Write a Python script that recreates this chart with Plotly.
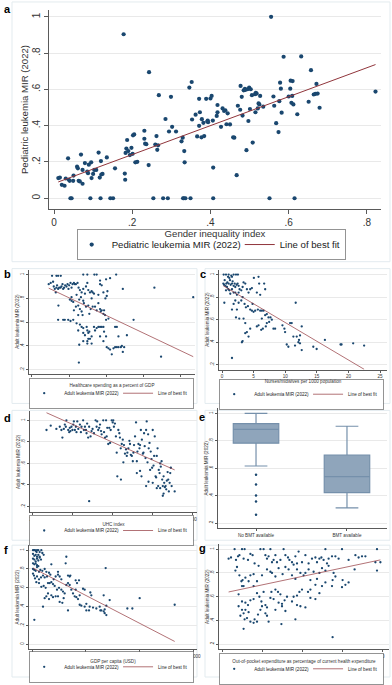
import plotly.graph_objects as go

FONT = "Liberation Sans, Arial, sans-serif"
NAVY = "#1A476F"
MAROON = "#90353B"
W, H = 392, 685

# ---------------- Panel a: Gender inequality index vs pediatric leukemia MIR
a_x = [0.011,0.015,0.020,0.027,0.030,0.036,0.038,0.040,0.042,0.045,0.049,0.050,0.059,0.061,0.063,0.066,
       0.069,0.073,0.073,0.079,0.085,0.087,0.089,0.093,0.095,0.096,0.100,0.103,0.108,0.114,0.117,0.119,
       0.120,0.121,0.124,0.135,0.144,0.151,0.156,0.178,0.181,0.182,0.183,0.185,0.187,0.190,0.194,0.198,
       0.201,0.202,0.205,0.208,0.213,0.231,0.231,0.233,0.236,0.242,0.243,0.254,0.259,0.262,0.264,0.266,
       0.268,0.279,0.285,0.291,0.294,0.299,0.302,0.312,0.326,0.329,0.330,0.332,0.333,0.334,0.336,0.346,
       0.349,0.352,0.353,0.362,0.366,0.371,0.371,0.373,0.377,0.378,0.382,0.384,0.389,0.392,0.393,0.394,
       0.400,0.403,0.406,0.407,0.407,0.416,0.418,0.418,0.427,0.431,0.435,0.438,0.441,0.444,0.450,0.458,
       0.461,0.467,0.470,0.476,0.477,0.480,0.482,0.485,0.488,0.489,0.492,0.495,0.497,0.499,0.501,0.503,
       0.506,0.508,0.514,0.515,0.516,0.518,0.521,0.523,0.525,0.527,0.535,0.551,0.555,0.561,0.563,0.568,
       0.574,0.576,0.578,0.580,0.582,0.587,0.600,0.604,0.605,0.607,0.609,0.610,0.612,0.615,0.622,0.632,
       0.651,0.657,0.664,0.668,0.671,0.674,0.679,0.822]
a_y = [0.111,0.114,0.074,0.069,0.109,0.220,0.102,0.096,0.0,0.0,0.096,0.125,0.174,0.165,0.096,0.093,
       0.241,0.156,0.080,0.194,0.147,0.138,0.185,0.0,0.198,0.111,0.134,0.156,0.156,0.252,0.114,0.0,
       0.205,0.131,0.134,0.225,0.0,0.0,0.165,0.904,0.136,0.102,0.250,0.274,0.321,0.260,0.238,0.278,
       0.245,0.347,0.352,0.198,0.201,0.372,0.328,0.301,0.298,0.183,0.695,0.0,0.296,0.343,0.267,0.292,
       0.568,0.0,0.437,0.0,0.368,0.559,0.394,0.368,0.314,0.334,0.0,0.0,0.260,0.198,0.0,0.610,
       0.0,0.641,0.434,0.461,0.341,0.548,0.399,0.474,0.336,0.436,0.416,0.343,0.548,0.423,0.428,0.419,
       0.550,0.564,0.428,0.0,0.169,0.454,0.474,0.514,0.394,0.495,0.481,0.485,0.408,0.468,0.407,0.336,
       0.334,0.127,0.510,0.488,0.619,0.559,0.456,0.595,0.603,0.597,0.265,0.601,0.426,0.610,0.492,0.601,
       0.568,0.307,0.574,0.474,0.581,0.577,0.495,0.523,0.517,0.564,0.505,0.0,1.0,0.561,0.510,0.414,
       0.365,0.535,0.637,0.604,0.472,0.780,0.561,0.604,0.648,0.526,0.564,0.646,0.517,0.0,0.463,0.782,
       0.532,0.706,0.572,0.575,0.630,0.577,0.499,0.588]
a_fit_x = [0.011, 0.822]
a_fit_y = [0.090, 0.737]
a_xticks = [0, 0.2, 0.4, 0.6, 0.8]
a_xlabels = ["0", ".2", ".4", ".6", ".8"]
a_yticks = [0, 0.2, 0.4, 0.6, 0.8, 1]
a_ylabels = ["0", ".2", ".4", ".6", ".8", "1"]

# ---------------- Panel b: Healthcare spending (% GDP)
b_x = [2.71,3.30,3.53,3.89,6.92,7.47,8.42,8.73,10.0,10.54,11.36,2.26,2.53,2.85,2.94,3.08,3.21,3.30,3.39,
       3.53,3.67,3.85,3.98,4.12,4.21,4.34,4.48,4.66,4.80,4.93,5.02,5.20,5.34,5.48,5.66,5.79,5.93,6.15,
       6.29,6.47,6.70,6.92,7.15,7.29,7.47,7.60,7.83,8.05,8.19,8.37,9.19,9.19,9.41,9.64,9.91,10.09,10.18,
       8.96,8.05,6.92,6.61,6.38,6.02,5.57,5.34,5.11,5.34,3.57,4.21,4.43,4.89,5.57,5.20,5.66,5.93,6.24,
       6.47,6.70,6.83,7.01,7.29,7.60,7.74,7.92,8.19,8.51,8.73,8.96,9.19,9.28,9.41,9.64,9.73,9.86,10.0,
       10.32,6.24,6.47,6.70,6.92,7.15,7.38,7.47,7.74,7.83,8.05,8.37,8.51,8.73,8.96,9.19,9.41,9.64,9.73,
       10.0,10.09,10.32,10.54,10.77,11.0,11.22,11.45,11.67,11.99,12.13,12.26,12.44,6.38,6.33,6.92,7.47,
       7.60,8.05,9.19,9.64,11.22,11.45,11.67,12.26,12.81,13.71,16.52,17.42,21.76,3.53,6.02,6.24,6.92,
       7.60,7.47]
b_y = [0.99,0.99,0.99,0.99,1.0,1.0,1.0,1.0,0.96,0.97,1.0,0.92,0.93,0.94,0.90,0.88,0.85,0.89,0.91,
       0.88,0.89,0.89,0.90,0.92,0.88,0.89,0.91,0.90,0.92,0.88,0.91,0.93,0.89,0.92,0.93,0.92,0.92,0.93,
       0.89,0.87,0.85,0.88,0.84,0.90,0.93,0.87,0.85,0.86,0.85,0.84,0.95,0.92,0.91,0.85,0.80,0.82,0.86,
       0.83,0.80,0.78,0.81,0.79,0.83,0.77,0.78,0.79,0.81,0.74,0.62,0.62,0.62,0.62,0.61,0.70,0.73,0.74,
       0.71,0.69,0.66,0.76,0.73,0.74,0.67,0.71,0.73,0.73,0.70,0.76,0.71,0.69,0.70,0.67,0.70,0.66,0.62,
       0.63,0.66,0.58,0.56,0.55,0.49,0.56,0.53,0.52,0.46,0.48,0.56,0.53,0.55,0.56,0.56,0.56,0.56,0.52,
       0.48,0.39,0.38,0.37,0.33,0.38,0.39,0.39,0.39,0.39,0.40,0.35,0.39,0.41,0.26,0.44,0.44,
       0.46,0.42,0.48,0.44,0.56,0.56,0.48,0.88,0.49,0.62,0.89,0.31,0.81,0.62,0.59,0.53,0.51,
       0.51,0.42]
b_fit_x = [2.26, 21.76]
b_fit_y = [0.886, 0.31]
b_xticks = [0, 5, 10, 15, 20]

# ---------------- Panel c: Nurses/midwives per 1000 population
c_x = [0.26,0.63,1.05,1.47,1.84,2.21,2.52,0.95,1.16,1.58,0.42,0.21,0.32,0.53,0.68,0.84,1.05,1.26,1.37,
       1.58,1.68,1.84,2.00,2.10,2.31,2.47,2.63,2.78,0.79,1.00,1.16,0.63,1.31,1.58,1.84,2.10,2.36,2.63,
       3.05,3.26,3.41,3.68,3.94,4.20,4.46,4.73,5.04,5.78,5.88,6.67,6.83,5.51,6.04,0.37,1.58,1.84,2.10,
       2.21,2.63,3.05,3.26,3.57,3.78,4.10,4.46,4.73,4.83,4.99,5.25,5.67,6.04,6.30,6.57,6.83,7.09,7.35,
       7.46,7.67,7.88,8.14,8.40,6.93,7.09,5.51,5.78,6.20,6.46,3.41,3.68,3.94,4.20,4.46,2.36,2.73,3.68,
       6.30,3.26,9.56,9.87,10.77,11.03,9.98,11.29,11.82,12.34,11.55,10.24,10.50,12.34,12.61,12.08,12.18,
       12.61,14.44,14.97,16.28,18.75,18.91,20.75,22.48,11.66,3.15,1.58]
c_y = [1.0,1.0,1.0,0.99,1.0,1.0,1.0,0.98,0.97,0.98,0.95,0.92,0.91,0.90,0.92,0.93,0.92,0.95,0.91,
       0.92,0.94,0.90,0.92,0.89,0.91,0.92,0.90,0.87,0.89,0.87,0.86,0.86,0.83,0.87,0.84,0.84,0.82,0.84,
       0.86,0.89,0.93,0.92,0.87,0.84,0.87,0.88,0.97,0.98,0.92,0.92,0.87,0.84,0.82,0.75,0.69,0.74,0.77,
       0.62,0.75,0.77,0.80,0.74,0.71,0.72,0.69,0.68,0.74,0.67,0.68,0.69,0.68,0.68,0.68,0.64,0.65,0.62,
       0.58,0.62,0.60,0.52,0.52,0.54,0.57,0.54,0.55,0.51,0.52,0.61,0.57,0.49,0.45,0.52,0.69,0.61,0.48,
       0.61,0.41,0.55,0.52,0.57,0.57,0.49,0.45,0.45,0.46,0.37,0.38,0.36,0.39,0.33,0.40,0.42,
       0.54,0.36,0.34,0.42,0.38,0.38,0.39,0.37,0.75,0.40,0.26]
c_fit_x = [0.21, 22.48]
c_fit_y = [0.90, 0.16]
c_xticks = [0, 5, 10, 15, 20, 25]

# ---------------- Panel d: UHC index
d_x = [27.2,29.3,32.1,33.8,34.6,35.1,35.8,36.3,36.8,37.1,38.0,38.5,38.8,39.1,39.6,40.1,40.5,40.8,41.3,
       41.8,42.1,42.5,43.0,43.8,44.3,44.6,45.4,45.8,46.3,46.8,47.1,47.4,47.9,48.4,49.1,49.6,50.1,50.8,
       51.6,52.1,52.4,52.9,53.4,53.8,54.3,54.6,55.4,55.8,56.3,56.8,57.1,57.4,57.9,58.4,58.8,59.1,59.6,
       60.1,60.4,60.7,61.2,61.7,62.1,62.9,63.4,63.7,64.1,64.6,65.1,65.4,65.7,66.2,66.7,67.1,67.4,67.9,
       68.4,68.7,69.1,69.6,70.1,70.4,70.7,71.2,71.7,72.1,72.4,72.9,73.4,73.7,74.1,74.6,75.1,75.4,75.7,
       76.0,76.4,76.7,77.0,77.4,77.7,78.0,78.4,78.7,79.0,79.4,79.7,80.0,80.4,80.7,81.0,81.4,81.7,82.0,
       82.4,82.7,83.0,83.4,83.7,84.0,84.4,84.7,85.0,85.4,85.7,86.0,86.4,86.7,87.0,87.4,87.7,88.0,88.4,
       88.7,89.0,89.4,62.4,64.2,48.4,72.1,73.7,74.4,76.7,77.9,90.9,85.0,85.4,83.7,80.0,82.0]
d_y = [0.91,0.95,0.92,0.94,0.91,0.84,0.92,0.96,0.94,1.0,0.91,0.89,0.93,0.90,0.94,0.91,0.96,0.99,0.91,
       0.94,0.89,0.99,0.92,0.96,0.89,0.94,1.0,0.91,0.94,0.91,0.88,0.97,0.84,0.94,0.85,0.90,0.92,0.88,
       1.0,0.94,0.99,0.91,0.93,0.96,0.90,0.87,1.0,0.89,0.84,1.0,0.85,0.93,0.78,0.93,0.79,0.91,1.0,
       0.98,1.0,0.94,0.97,0.85,0.70,0.91,0.88,0.84,0.74,0.78,0.82,0.61,0.77,0.69,0.73,0.67,0.70,0.74,
       0.81,0.78,0.68,0.67,0.62,0.70,0.77,0.85,0.98,0.62,0.71,0.78,0.74,0.77,0.91,0.82,0.69,0.70,0.88,
       0.76,0.65,0.91,0.99,0.61,0.87,0.74,0.79,0.54,0.71,0.64,0.56,0.91,0.58,0.67,0.85,0.48,0.47,0.67,
       0.74,0.39,0.54,0.51,0.60,0.57,0.62,0.45,0.39,0.48,0.42,0.38,0.39,0.36,0.44,0.52,0.45,0.34,0.42,
       0.51,0.56,0.39,0.48,0.45,0.25,0.51,0.53,0.48,0.39,0.43,0.34,0.30,0.32,0.37,0.42,0.37]
d_fit_x = [27.2, 90.9]
d_fit_y = [1.07, 0.54]
d_xticks = [20, 40, 60, 80, 100]

# ---------------- Panel e: BMT availability (box plot)
e_cats = ["No BMT available", "BMT available"]
e_q1 = [0.783, 0.424]
e_median = [0.884, 0.540]
e_q3 = [0.925, 0.696]
e_lower = [0.617, 0.313]
e_upper = [1.0, 0.906]
e_out_x = ["No BMT available"] * 5
e_out_y = [0.554, 0.482, 0.402, 0.359, 0.263]

# ---------------- Panel f: GDP per capita (USD)
f_x = [932,1864,2795,3727,4659,5901,7144,8697,9629,10871,932,2174,3417,4659,5901,932,2174,3417,4659,
       5901,7144,8386,932,2174,3417,4659,5901,932,2174,3417,4659,6523,7765,9629,11803,13356,932,1864,
       2795,4659,6523,8386,10250,11803,13977,15841,17083,18015,20189,22053,24227,25780,4038,6523,8697,
       10871,12735,14909,16462,18015,19568,21121,23295,25159,27333,28886,30439,18015,14909,11803,15841,
       19568,22053,24227,25780,28265,29507,31992,33545,35098,36651,38204,39757,41310,42863,44416,27333,
       31371,24227,33545,35098,40689,41931,47522,49075,33545,44416,45969,49075,50628,53734,54355,55287,
       56840,63052,63673,64605,67711,69264,72370,43795,40689,35719,31992,2174,10250,13356,50628,53113,
       59946,66779,67711,69264,66779,68643,88832,93491,100324,132937,7144,4348]
f_y = [1.0,1.0,1.0,0.99,1.0,1.0,0.98,1.0,0.97,0.95,0.96,0.94,0.95,0.93,0.95,0.91,0.90,0.88,0.91,
       0.89,0.92,0.90,0.86,0.85,0.86,0.84,0.83,0.80,0.79,0.78,0.82,0.77,0.79,0.78,0.80,0.77,0.75,0.73,
       0.70,0.72,0.69,0.71,0.73,0.71,0.72,0.76,0.74,0.85,0.69,0.72,0.74,0.72,0.66,0.65,0.61,
       0.62,0.60,0.65,0.65,0.66,0.64,0.62,0.58,0.60,0.58,0.56,0.54,0.52,0.54,0.49,0.48,
       0.50,0.51,0.51,0.45,0.44,0.49,0.63,0.65,0.63,0.58,0.54,0.51,0.50,0.48,0.52,0.69,
       0.86,0.77,0.73,0.72,0.68,0.65,0.59,0.58,0.36,0.42,0.41,0.40,0.43,0.40,0.55,0.52,
       0.39,0.40,0.36,0.36,0.37,0.41,0.47,0.68,0.58,0.73,0.93,0.26,0.40,0.51,0.36,0.36,
       0.38,0.35,0.33,0.31,0.52,0.81,0.38,0.38,0.49,0.42,0.93,0.98]
f_fit_x = [932, 132937]
f_fit_y = [0.81, 0.03]
f_xticks = [0, 50000, 100000, 150000]
f_xlabels = ["0", "50000", "100000", "150000"]

# ---------------- Panel g: Out-of-pocket expenditure (% CHE)
g_x = [3.3,4.5,6.3,7.0,8.0,8.7,10.0,11.3,10.8,13.0,14.2,15.3,16.3,19.2,20.8,21.7,22.5,23.3,24.2,25.0,
       25.8,26.7,27.5,29.2,30.8,31.7,33.0,33.7,35.0,35.8,36.7,37.5,38.3,40.0,41.7,43.3,45.0,46.7,47.5,
       48.7,49.7,50.8,51.7,52.5,53.3,55.0,56.7,58.3,60.0,63.3,66.7,68.3,70.0,71.7,77.5,76.7,79.2,6.7,
       7.5,8.7,9.7,10.0,10.3,11.7,14.2,15.8,18.3,20.0,22.5,24.2,25.0,26.7,28.3,30.3,31.7,33.3,35.0,36.7,
       37.5,39.2,40.8,41.7,43.3,44.2,45.8,47.5,48.7,50.0,51.7,53.3,55.8,56.7,60.0,60.3,61.7,63.3,66.3,
       77.5,8.3,10.0,11.7,13.0,14.2,15.8,17.5,18.7,19.7,20.8,21.7,22.5,24.2,24.7,25.8,26.7,28.0,29.2,
       30.0,31.3,32.5,35.0,35.8,37.5,38.7,40.0,43.0,44.2,46.7,48.7,50.0,51.7,8.3,9.2,10.0,10.8,11.3,
       11.7,12.5,13.3,14.2,15.8,16.3,17.5,18.0,19.2,20.0,22.5,23.3,21.7,26.7,28.3,30.0,31.7,36.7,37.5,
       39.2,41.7,44.2,46.7,55.0,55.3,10.8,29.7,55.3,10.8,13.3,15.8,17.5]
g_y = [0.92,0.93,1.0,0.91,0.94,0.95,1.0,1.0,0.92,0.91,0.96,0.95,0.88,1.0,1.0,0.95,0.92,0.94,1.0,0.89,
       0.91,0.95,0.89,0.91,1.0,0.95,0.93,0.91,0.89,0.87,0.94,0.88,0.98,0.89,0.95,0.88,0.92,0.93,0.89,
       0.92,0.93,0.91,1.0,0.88,0.92,0.94,0.94,0.92,1.0,0.91,0.95,0.93,0.94,0.94,1.0,0.89,0.89,0.82,
       0.85,0.78,0.73,0.69,0.74,0.76,0.78,0.79,0.86,0.78,0.83,0.81,0.80,0.77,0.84,0.79,0.85,0.83,0.78,0.75,
       0.83,0.80,0.78,0.80,0.83,0.74,0.81,0.75,0.80,0.84,0.82,0.86,0.80,0.77,0.68,0.74,0.70,0.72,0.83,
       0.82,0.62,0.56,0.55,0.53,0.57,0.58,0.63,0.60,0.56,0.64,0.53,0.51,0.59,0.64,0.58,0.66,0.64,0.62,
       0.54,0.57,0.60,0.56,0.60,0.61,0.64,0.66,0.64,0.66,0.70,0.63,0.69,0.72,0.52,0.44,0.49,0.46,0.41,
       0.49,0.42,0.47,0.39,0.38,0.41,0.39,0.45,0.49,0.52,0.44,0.39,0.46,0.49,0.55,0.52,0.48,0.41,0.53,
       0.52,0.51,0.59,0.58,0.69,0.74,0.33,0.37,0.26,0.69,0.73,0.69,0.73]
g_fit_x = [3.3, 79.2]
g_fit_y = [0.64, 0.91]
g_xticks = [0, 20, 40, 60, 80]

small_yticks = [0.2, 0.4, 0.6, 0.8, 1]
small_ylabels = [".2", ".4", ".6", ".8", "1"]
f_yticks = [0, 0.2, 0.4, 0.6, 0.8, 1]
f_ylabels = ["0", ".2", ".4", ".6", ".8", "1"]

SCATTER_NAME_A = "Pediatric leukemia MIR (2022)"
SCATTER_NAME = "Adult leukemia MIR (2022)"
FIT_NAME = "Line of best fit"
YTITLE = "Adult leukemia MIR (2022)"


def px_x(a, b):
    return [a / W, b / W]


def px_y(top, bottom):
    return [1 - bottom / H, 1 - top / H]


def axis(domain, rng, tickvals, ticktext, fs, tfs, title, standoff, ticklen, angle=0,
         grid=False, cat=False):
    d = dict(domain=domain, range=rng, tickmode="array", tickvals=tickvals,
             ticktext=ticktext, ticks="outside", ticklen=ticklen, tickwidth=0.6,
             tickcolor="#5a5a5a", showline=True, linecolor="#5a5a5a", linewidth=0.7,
             zeroline=False, showgrid=grid, gridcolor="#E9E9E9", gridwidth=0.6,
             tickfont=dict(size=fs, color="#333333", family=FONT),
             title=dict(text=title, font=dict(size=tfs, color="#333333", family=FONT),
                        standoff=standoff),
             tickangle=angle, fixedrange=True, automargin=False)
    if cat:
        d["type"] = "category"
    return d


fig = go.Figure()

panels = [
    ("a", a_x, a_y, a_fit_x, a_fit_y, SCATTER_NAME_A, "x", "y", "legend", 4.2, 1.0),
    ("b", b_x, b_y, b_fit_x, b_fit_y, SCATTER_NAME, "x2", "y2", "legend2", 2.3, 0.7),
    ("c", c_x, c_y, c_fit_x, c_fit_y, SCATTER_NAME, "x3", "y3", "legend3", 2.3, 0.7),
    ("d", d_x, d_y, d_fit_x, d_fit_y, SCATTER_NAME, "x4", "y4", "legend4", 2.3, 0.7),
    ("f", f_x, f_y, f_fit_x, f_fit_y, SCATTER_NAME, "x6", "y6", "legend5", 2.3, 0.7),
    ("g", g_x, g_y, g_fit_x, g_fit_y, SCATTER_NAME, "x7", "y7", "legend6", 2.3, 0.7),
]
for key, xs, ys, fx, fy, nm, xa, ya, lg, ms, lw in panels:
    fig.add_trace(go.Scatter(x=xs, y=ys, mode="markers", name=nm, xaxis=xa, yaxis=ya,
                             legend=lg, marker=dict(color=NAVY, size=ms, line=dict(width=0)),
                             cliponaxis=False))
    fig.add_trace(go.Scatter(x=fx, y=fy, mode="lines", name=FIT_NAME, xaxis=xa, yaxis=ya,
                             legend=lg, line=dict(color=MAROON, width=lw)))

fig.add_trace(go.Box(x=e_cats, q1=e_q1, median=e_median, q3=e_q3, lowerfence=e_lower,
                     upperfence=e_upper, boxpoints=False, width=0.5, whiskerwidth=0.5,
                     fillcolor="#8FA5BB", line=dict(color="#7590AB", width=1.2),
                     xaxis="x5", yaxis="y5", showlegend=False))
fig.add_trace(go.Scatter(x=e_out_x, y=e_out_y, mode="markers", xaxis="x5", yaxis="y5",
                         marker=dict(color=NAVY, size=2.5), showlegend=False))

S = 4.6  # small font size
layout = dict(
    width=W, height=H, margin=dict(l=0, r=0, t=0, b=0),
    paper_bgcolor="white", plot_bgcolor="white",
    font=dict(family=FONT, color="#333333"),
    showlegend=True,
    xaxis=axis(px_x(49, 381), [-0.0128, 0.836], a_xticks, a_xlabels, 10, 9.6,
               "Gender inequality index", 0, 4),
    yaxis=axis(px_y(10, 211), [-0.0601, 1.0383], a_yticks, a_ylabels, 10, 9.6,
               "Pediatric leukemia MIR (2022)", 0, 4, angle=-90, grid=True),
    xaxis2=axis(px_x(29, 195), [-0.4, 22.0], b_xticks, [str(v) for v in b_xticks], S, S,
                "Healthcare spending as a percent of GDP", 1, 2),
    yaxis2=axis(px_y(272, 377), [0.1667, 1.042], small_yticks, small_ylabels, S, S,
                YTITLE, 0, 2, angle=-90, grid=True),
    xaxis3=axis(px_x(219, 387), [-0.475, 26.1], c_xticks, [str(v) for v in c_xticks], S, S,
                "Nurses/midwives per 1000 population", 1, 2),
    yaxis3=axis(px_y(272, 373), [0.156, 1.044], small_yticks, small_ylabels, S, S,
                YTITLE, 0, 2, angle=-90, grid=True),
    xaxis4=axis(px_x(30, 197), [19, 102], d_xticks, [str(v) for v in d_xticks], S, S,
                "UHC index", 1, 2),
    yaxis4=axis(px_y(415, 517), [0.145, 1.083], small_yticks, small_ylabels, S, S,
                YTITLE, 0, 2, angle=-90, grid=True),
    xaxis5=axis(px_x(218, 387), [-0.418, 1.44], e_cats, e_cats, S, S, "", 1, 2, cat=True),
    yaxis5=axis(px_y(412, 533), [0.164, 1.036], small_yticks, small_ylabels, S, S,
                YTITLE, 0, 2, angle=-90, grid=True),
    xaxis6=axis(px_x(29, 197), [-2795, 153727], f_xticks, f_xlabels, S, S,
                "GDP per capita (USD)", 1, 2),
    yaxis6=axis(px_y(550, 655), [-0.053, 1.053], f_yticks, f_ylabels, S, S,
                YTITLE, 0, 2, angle=-90, grid=True),
    xaxis7=axis(px_x(219, 389), [-1.5, 83.5], g_xticks, [str(v) for v in g_xticks], S, S,
                "Out-of-pocket expenditure as percentage of current health expenditure", 1, 2),
    yaxis7=axis(px_y(549, 655), [0.158, 1.042], small_yticks, small_ylabels, S, S,
                YTITLE, 0, 2, angle=-90, grid=True),
)
for i in range(2, 8):
    layout["xaxis%d" % i]["anchor"] = "y%d" % i
    layout["yaxis%d" % i]["anchor"] = "x%d" % i


def legend_cfg(cx, cy, fs):
    return dict(x=cx / W, y=1 - cy / H, xanchor="center", yanchor="middle",
                orientation="h", bordercolor="#666666", borderwidth=0.7,
                bgcolor="white", font=dict(size=fs, family=FONT, color="#222222"),
                itemwidth=30, tracegroupgap=0, itemclick=False, indentation=-6)


layout["legend"] = legend_cfg(211.5, 247, 9.6)
layout["legend2"] = legend_cfg(111.5, 397, S)
layout["legend3"] = legend_cfg(301.5, 398, S)
layout["legend4"] = legend_cfg(111.5, 535.5, S)
layout["legend5"] = legend_cfg(111.5, 673, S)
layout["legend6"] = legend_cfg(301.5, 675, S)

frames = [(12, 2, 390, 264), (12, 271, 197, 407), (205, 271, 390, 407),
          (12, 414, 197, 545), (205, 414, 390, 545), (12, 550, 197, 683), (205, 550, 390, 683)]
shapes = []
for x0, y0, x1, y1 in frames:
    shapes.append(dict(type="rect", xref="paper", yref="paper", x0=x0 / W, x1=x1 / W,
                       y0=1 - y1 / H, y1=1 - y0 / H, line=dict(color="#E3EBEF", width=1),
                       fillcolor="rgba(0,0,0,0)", layer="below"))
layout["shapes"] = shapes

labels = [("a", 2, 1), ("b", 2, 268), ("c", 198, 268), ("d", 2, 414), ("e", 197, 413),
          ("f", 2, 547), ("g", 197, 545)]
layout["annotations"] = [dict(text="<b>%s</b>" % t, x=x / W, y=1 - y / H, xref="paper",
                              yref="paper", xanchor="left", yanchor="top", showarrow=False,
                              font=dict(size=11, family=FONT, color="black"))
                         for t, x, y in labels]

fig.update_layout(**layout)
fig.write_html("out.html", config={"displayModeBar": False},
               post_script="document.body.style.margin='0px';document.body.style.overflow='hidden';")
